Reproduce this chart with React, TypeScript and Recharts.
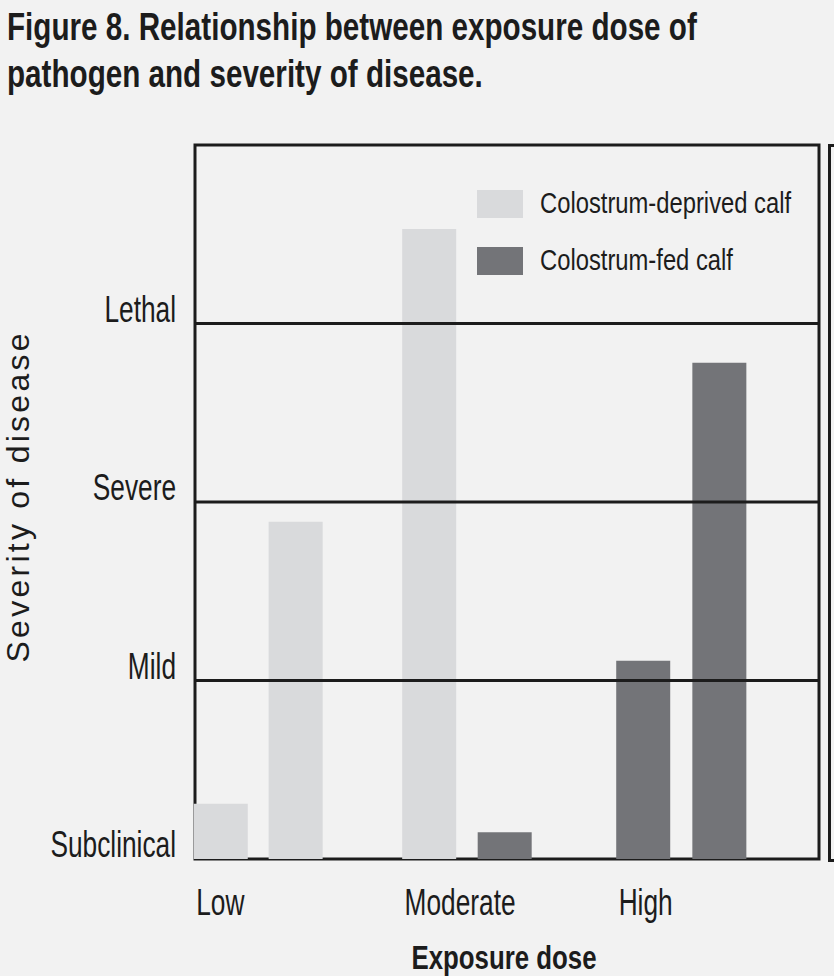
import { BarChart, Bar, XAxis, YAxis, ReferenceLine, ReferenceArea, Legend } from 'recharts';

// severity scale (y) and exposure dose (x)
const severityLevels = ['Subclinical', 'Mild', 'Severe', 'Lethal'];
const doseCategories = ['Low', 'Moderate', 'High'];
const doseCategoryAt = [4.2, 37.6, 71.9];

// one entry per bar, position on the dose axis
const barDose = [4.2, 16.2, 37.6, 49.7, 71.9, 84.1];
const deprivedSeverity = [0.31, 1.89, 3.53, null, null, null];
const fedSeverity = [null, null, null, 0.15, 1.11, 2.78];

const data = barDose.map((dose, i) => ({
  dose,
  deprived: deprivedSeverity[i],
  fed: fedSeverity[i],
}));

const FONT = '"Liberation Sans", Arial, sans-serif';
const INK = '#1c1c1c';
const LIGHT = '#d9dadc';
const DARK = '#737478';
const BG = '#f2f2f2';

// the original uses a tall condensed face; squeeze Liberation Sans horizontally
const Narrow = ({ x, y, scale, anchor = 'start', size, weight = 'normal', children }: any) => (
  <g transform={`translate(${x},${y}) scale(${scale},1)`}>
    <text x={0} y={0} textAnchor={anchor} fontFamily={FONT} fontSize={size} fontWeight={weight} fill={INK}>
      {children}
    </text>
  </g>
);

const YTick = ({ x, y, payload }: any) => (
  <Narrow x={x} y={y - 2} scale={0.73} anchor="end" size={36}>
    {severityLevels[payload.value]}
  </Narrow>
);

const XTick = ({ x, y, payload }: any) => {
  const idx = doseCategoryAt.indexOf(payload.value);
  return (
    <Narrow x={x - 25} y={915} scale={0.73} size={36}>
      {doseCategories[idx]}
    </Narrow>
  );
};

const renderLegend = ({ payload }: any) => (
  <div>
    {(payload || []).map((entry: any) => (
      <div key={entry.value} style={{ display: 'flex', alignItems: 'center', height: 57 }}>
        <div style={{ width: 46, height: 28, background: entry.color, flex: 'none' }} />
        <span
          style={{
            marginLeft: 17,
            fontFamily: FONT,
            fontSize: 29,
            color: INK,
            whiteSpace: 'nowrap',
            display: 'inline-block',
            transform: 'scaleX(0.82)',
            transformOrigin: 'left center',
          }}
        >
          {entry.value}
        </span>
      </div>
    ))}
  </div>
);

export default function App() {
  return (
    <div style={{ position: 'absolute', left: 0, top: 0, width: 834, height: 976, background: BG, overflow: 'hidden' }}>
      <svg width={834} height={110} style={{ position: 'absolute', left: 0, top: 0 }}>
        <Narrow x={7} y={40} scale={0.78} size={38} weight="bold">
          Figure 8. Relationship between exposure dose of
        </Narrow>
        <Narrow x={7} y={87} scale={0.78} size={38} weight="bold">
          pathogen and severity of disease.
        </Narrow>
      </svg>

      {/* edge of the neighbouring panel */}
      <div
        style={{
          position: 'absolute',
          left: 828,
          top: 144,
          width: 20,
          height: 712,
          border: `3px solid ${INK}`,
        }}
      />

      <BarChart
        width={834}
        height={976}
        data={data}
        margin={{ top: 145, right: 15, bottom: 0, left: 0 }}
        style={{ position: 'absolute', left: 0, top: 0 }}
      >
        <XAxis
          dataKey="dose"
          type="number"
          domain={[0, 100]}
          ticks={doseCategoryAt}
          height={117}
          axisLine={false}
          tickLine={false}
          tickSize={0}
          tick={<XTick />}
          label={{
            content: () => (
              <Narrow x={504} y={969} scale={0.76} anchor="middle" size={34} weight="bold">
                Exposure dose
              </Narrow>
            ),
          }}
        />
        <YAxis
          type="number"
          domain={[0, 4]}
          ticks={[0, 1, 2, 3]}
          width={195}
          axisLine={false}
          tickLine={false}
          tickSize={0}
          tickMargin={19}
          tick={<YTick />}
          label={{
            content: () => (
              <text
                x={29}
                y={498}
                transform="rotate(-90, 29, 498)"
                textAnchor="middle"
                fontFamily={FONT}
                fontSize={32}
                fill={INK}
                textLength={329}
                lengthAdjust="spacing"
              >
                Severity of disease
              </text>
            ),
          }}
        />
        <Legend
          layout="vertical"
          align="center"
          verticalAlign="middle"
          content={renderLegend}
          wrapperStyle={{ top: 175, left: 477, width: 'auto' }}
        />
        <Bar dataKey="deprived" name="Colostrum-deprived calf" stackId="s" fill={LIGHT} barSize={54} isAnimationActive={false} />
        <Bar dataKey="fed" name="Colostrum-fed calf" stackId="s" fill={DARK} barSize={54} isAnimationActive={false} />
        {[1, 2, 3].map((v) => (
          <ReferenceLine key={v} y={v} stroke={INK} strokeWidth={3} />
        ))}
        <ReferenceArea x1={0} x2={100} y1={0} y2={4} fill="none" stroke={INK} strokeWidth={3} />
      </BarChart>
    </div>
  );
}
